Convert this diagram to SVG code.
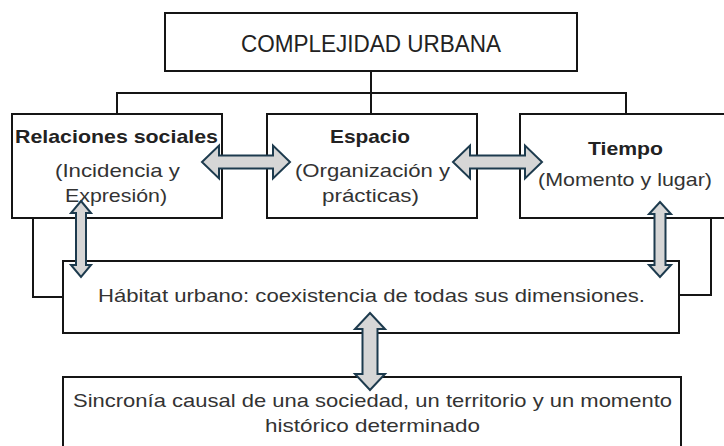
<svg xmlns="http://www.w3.org/2000/svg" width="724" height="446" viewBox="0 0 724 446">
<style>
.box{fill:#fff;stroke:#151515;stroke-width:2}
.ln{fill:none;stroke:#151515;stroke-width:2}
.t{font-family:"Liberation Sans",Arial,sans-serif;font-size:19px;fill:#333;text-anchor:middle}
.b{font-weight:bold;fill:#222}
.h{font-size:24px;fill:#222}
.arr{fill:#d6d6d6;stroke:#1d3b4e;stroke-width:2;stroke-linejoin:miter}
</style>
<rect width="724" height="446" fill="#fff"/>
<g id="complejidad">
<rect class="box" x="165" y="13" width="412" height="58"/>
<text class="t h" x="371" y="52" textLength="260" lengthAdjust="spacingAndGlyphs">COMPLEJIDAD URBANA</text>
</g>
<g id="relaciones">
<rect class="box" x="12" y="114" width="210" height="104"/>
<text class="t b" x="116.5" y="143" textLength="203" lengthAdjust="spacingAndGlyphs">Relaciones sociales</text>
<text class="t" x="117.5" y="177" textLength="125" lengthAdjust="spacingAndGlyphs">(Incidencia y</text>
<text class="t" x="116" y="202" textLength="102" lengthAdjust="spacingAndGlyphs">Expresión)</text>
</g>
<g id="espacio">
<rect class="box" x="267" y="114" width="210" height="104"/>
<text class="t b" x="370" y="143" textLength="80" lengthAdjust="spacingAndGlyphs">Espacio</text>
<text class="t" x="372.5" y="177" textLength="155" lengthAdjust="spacingAndGlyphs">(Organización y</text>
<text class="t" x="370.5" y="202" textLength="97" lengthAdjust="spacingAndGlyphs">prácticas)</text>
</g>
<g id="tiempo">
<rect class="box" x="520" y="114" width="214" height="104"/>
<text class="t b" x="625.5" y="155" textLength="75" lengthAdjust="spacingAndGlyphs">Tiempo</text>
<text class="t" x="625" y="186" textLength="174" lengthAdjust="spacingAndGlyphs">(Momento y lugar)</text>
</g>
<g id="habitat">
<rect class="box" x="63" y="261" width="616" height="72"/>
<text class="t" x="371.5" y="302" textLength="547" lengthAdjust="spacingAndGlyphs">Hábitat urbano: coexistencia de todas sus dimensiones.</text>
</g>
<g id="sincronia">
<rect class="box" x="63" y="377" width="618" height="90"/>
<text class="t" x="372.5" y="407" textLength="599" lengthAdjust="spacingAndGlyphs">Sincronía causal de una sociedad, un territorio y un momento</text>
<text class="t" x="372.5" y="432" textLength="215" lengthAdjust="spacingAndGlyphs">histórico determinado</text>
</g>
<g id="connectors">
<path class="ln" d="M371 71V93M117 114V93H626V114M371 93V114"/>
<path class="ln" d="M33 218V297H63"/>
<path class="ln" d="M711 218V295H679"/>
<polygon class="arr" points="202,162 219,145.5 219,155.5 273,155.5 273,145.5 290,162 273,178.5 273,168.5 219,168.5 219,178.5"/>
<polygon class="arr" points="453,162 470,145.5 470,155.5 525,155.5 525,145.5 542,162 525,178.5 525,168.5 470,168.5 470,178.5"/>
<polygon class="arr" points="81,201 91,213 86,213 86,265 91,265 81,277 71,265 76,265 76,213 71,213"/>
<polygon class="arr" points="660,202 671,214 665.5,214 665.5,265 671,265 660,277 649,265 654.5,265 654.5,214 649,214"/>
<polygon class="arr" points="370,313 385,329 377.5,329 377.5,374 385,374 370,390 355,374 362.5,374 362.5,329 355,329"/>
</g>
</svg>
